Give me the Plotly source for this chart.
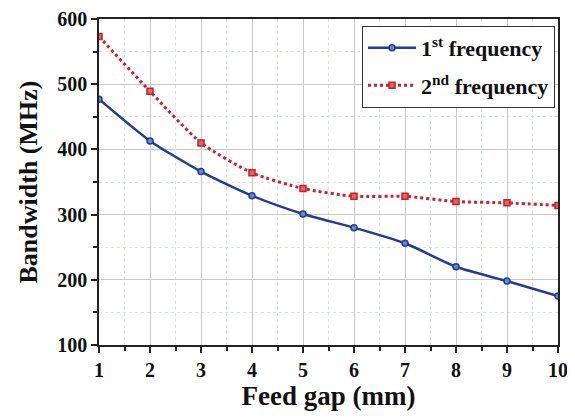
import plotly.graph_objects as go

feed_gap = [1, 2, 3, 4, 5, 6, 7, 8, 9, 10]
bw_first = [477, 413, 366, 329, 301, 280, 256, 220, 198, 175]
bw_second = [573, 489, 410, 364, 340, 328, 328, 320, 318, 314]
x_ticks = [1, 2, 3, 4, 5, 6, 7, 8, 9, 10]
y_ticks = [100, 200, 300, 400, 500, 600]

FONT = "Liberation Serif"

fig = go.Figure()
fig.add_trace(go.Scatter(
    x=feed_gap, y=bw_first, mode="lines+markers",
    name="1<sup>st</sup> frequency", legendgroup="a",
    line=dict(color="#1f3c99", width=2.5, shape="spline", smoothing=0.6),
    marker=dict(symbol="circle", size=6, color="#6a86d0",
                line=dict(color="#1f3c99", width=1.5)),
))
fig.add_trace(go.Scatter(
    x=feed_gap, y=bw_second, mode="lines+markers",
    name="2<sup>nd</sup> frequency", legendgroup="b",
    line=dict(color="#d0202a", width=3, dash="dot", shape="spline", smoothing=0.6),
    marker=dict(symbol="square", size=6, color="#e86060",
                line=dict(color="#c81e28", width=1.5)),
))

axis_common = dict(
    showline=True, linecolor="#222", linewidth=1.5, mirror=True,
    ticks="outside", ticklen=6, tickwidth=1.5, tickcolor="#222",
    tickfont=dict(family=FONT, size=20, color="#111", weight="bold"),
    ticklabeloverflow="allow",
    showgrid=True, gridcolor="#c8c8c8", gridwidth=1,
    zeroline=False, automargin=False,
)

# page body has an 8px default margin; figure is sized to fit the 575x419 window
fig.update_layout(
    width=559, height=403,
    margin=dict(l=91, r=9, t=11, b=66),
    paper_bgcolor="white", plot_bgcolor="white",
    font=dict(family=FONT, color="#111"),
    xaxis=dict(
        **axis_common, range=[1, 10], tickvals=x_ticks,
        minor=dict(ticks="outside", ticklen=4, dtick=0.5, tick0=1,
                   showgrid=True, gridcolor="#d8e8d8", griddash="dot"),
        title=dict(text="Feed gap (mm)", font=dict(family=FONT, size=27, weight="bold"), standoff=20),
    ),
    yaxis=dict(
        **axis_common, range=[100, 600], tickvals=y_ticks,
        minor=dict(ticks="outside", ticklen=4, dtick=50, tick0=100,
                   showgrid=True, gridcolor="#d8e8d8", griddash="dot"),
        title=dict(text="Bandwidth (MHz)", font=dict(family=FONT, size=26, weight="bold"), standoff=12),
    ),
    legend=dict(
        x=0.9935, y=0.979, xanchor="right", yanchor="top",
        bgcolor="white", bordercolor="#333", borderwidth=1,
        font=dict(family=FONT, size=22, color="#111", weight="bold"),
        tracegroupgap=6, itemwidth=48,
    ),
)

fig.write_html("out.html")
